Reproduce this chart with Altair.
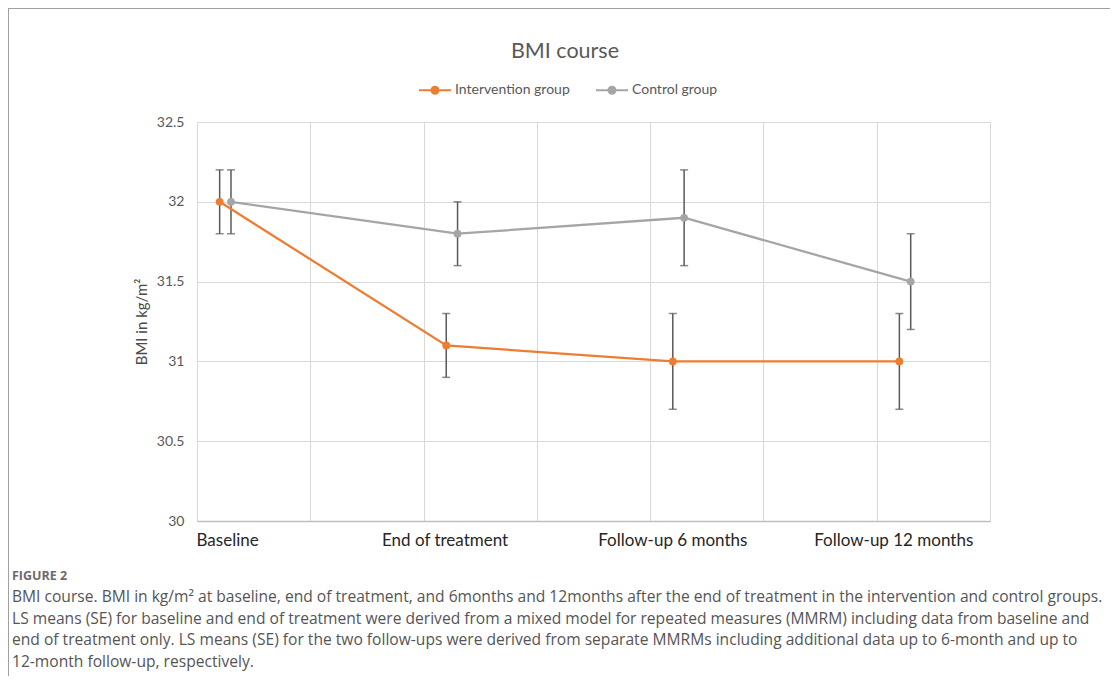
import altair as alt
import pandas as pd

# ---- data ----
categories = ["Baseline", "End of treatment", "Follow-up 6 months", "Follow-up 12 months"]
groups = ["Intervention group", "Control group"]
colors = ["#ED7D31", "#A5A5A5"]

# x positions on Excel's value axis (0..7)
intervention_x = [0.2, 2.2, 4.2, 6.2]
control_x = [0.3, 2.3, 4.3, 6.3]
intervention_mean = [32.0, 31.1, 31.0, 31.0]
intervention_se = [0.2, 0.2, 0.3, 0.3]
control_mean = [32.0, 31.8, 31.9, 31.5]
control_se = [0.2, 0.2, 0.3, 0.3]

label_x = [0.27, 2.19, 4.2, 6.15]
x_grid = [0, 1, 2, 3, 4, 5, 6, 7]
y_ticks = [30, 30.5, 31, 31.5, 32, 32.5]

caption_head = "FIGURE 2"
caption_lines = [
    "BMI course. BMI in kg/m\u00b2 at baseline, end of treatment, and 6months and 12months after the end of treatment in the intervention and control groups.",
    "LS means (SE) for baseline and end of treatment were derived from a mixed model for repeated measures (MMRM) including data from baseline and",
    "end of treatment only. LS means (SE) for the two follow-ups were derived from separate MMRMs including additional data up to 6-month and up to",
    "12-month follow-up, respectively.",
]

rows = []
for g, xs, ms, ses in [
    (groups[0], intervention_x, intervention_mean, intervention_se),
    (groups[1], control_x, control_mean, control_se),
]:
    for c, xv, m, s in zip(categories, xs, ms, ses):
        rows.append({"group": g, "category": c, "x": xv, "mean": m, "lo": m - s, "hi": m + s})
df = pd.DataFrame(rows)
labels_df = pd.DataFrame({"category": categories, "lx": label_x})
one = pd.DataFrame({"k": [0]})

W, H = 793, 399
FONT = "Lato"

xscale = alt.Scale(domain=[0, 7], nice=False, zero=False)
yscale = alt.Scale(domain=[30, 32.5], nice=False, zero=False)
cscale = alt.Scale(domain=groups, range=colors)

xaxis = alt.Axis(values=x_grid, labels=False, ticks=False, grid=True, gridColor="#d9d9d9",
                 domainColor="#bfbfbf", domainWidth=1.3, title=None)
yaxis = alt.Axis(values=y_ticks, format="~g", ticks=False, domain=False, grid=True,
                 gridColor="#d9d9d9", labelFont=FONT, labelFontSize=14, labelColor="#595959",
                 labelPadding=13, title="BMI in kg/m\u00b2", titleFont=FONT, titleFontSize=15,
                 titleFontWeight="normal", titleColor="#4a4a4a", titlePadding=7)

dot_path = ("M-1,0H1"
            "M0.22,0A0.22,0.22,0,1,1,-0.22,0A0.22,0.22,0,1,1,0.22,0"
            "M0.16,0A0.16,0.16,0,1,1,-0.16,0A0.16,0.16,0,1,1,0.16,0"
            "M0.1,0A0.1,0.1,0,1,1,-0.1,0A0.1,0.1,0,1,1,0.1,0"
            "M0.04,0A0.04,0.04,0,1,1,-0.04,0A0.04,0.04,0,1,1,0.04,0")

legend = alt.Legend(orient="none", legendX=221, legendY=-49, direction="horizontal", title=None,
                    symbolType=dot_path, symbolSize=1024, symbolStrokeWidth=2,
                    labelFont=FONT, labelFontSize=14, labelColor="#595959", labelOffset=3,
                    columnPadding=22)

base = alt.Chart(df)

err = base.mark_rule(color="#595959", strokeWidth=1.5).encode(
    x=alt.X("x:Q", scale=xscale, axis=xaxis),
    y=alt.Y("lo:Q", scale=yscale, axis=yaxis),
    y2="hi:Q",
)
cap_lo = base.mark_tick(color="#595959", orient="horizontal", size=8, thickness=1.5).encode(
    x=alt.X("x:Q", scale=xscale), y=alt.Y("lo:Q", scale=yscale))
cap_hi = base.mark_tick(color="#595959", orient="horizontal", size=8, thickness=1.5).encode(
    x=alt.X("x:Q", scale=xscale), y=alt.Y("hi:Q", scale=yscale))

lines = base.mark_line(strokeWidth=2.25).encode(
    x=alt.X("x:Q", scale=xscale),
    y=alt.Y("mean:Q", scale=yscale),
    color=alt.Color("group:N", scale=cscale, legend=legend, sort=groups),
    detail="group:N",
)
points = base.mark_circle(size=60, opacity=1).encode(
    x=alt.X("x:Q", scale=xscale),
    y=alt.Y("mean:Q", scale=yscale),
    fill=alt.Fill("group:N", scale=cscale, legend=None),
)

xlabels = alt.Chart(labels_df).mark_text(font=FONT, fontSize=17, color="#262626", baseline="middle").encode(
    x=alt.X("lx:Q", scale=xscale),
    y=alt.value(H + 20),
    text="category:N",
)

title = alt.Chart(one).mark_text(text="BMI course", font=FONT, fontSize=21.5, color="#595959",
                                 baseline="middle", align="center").encode(
    x=alt.value(368), y=alt.value(-70))

cap_head = alt.Chart(one).mark_text(text=caption_head, font="Open Sans", fontSize=12.5, fontWeight="bold",
                                    color="#6b6b6b", baseline="middle", align="left").encode(
    x=alt.value(-185), y=alt.value(454))
cap_body = alt.Chart(one).mark_text(text="\n".join(caption_lines), lineBreak="\n", lineHeight=21.6,
                                    font="Open Sans", fontSize=15.6, color="#555555",
                                    baseline="top", align="left").encode(
    x=alt.value(-185), y=alt.value(468))

frame_top = alt.Chart(one).mark_rule(color="#a0a0a0", strokeWidth=1).encode(
    x=alt.value(-189), x2=alt.value(940), y=alt.value(-113.5))
frame_left = alt.Chart(one).mark_rule(color="#a0a0a0", strokeWidth=1).encode(
    x=alt.value(-188.5), y=alt.value(-114), y2=alt.value(570))

chart = alt.layer(
    err, cap_lo, cap_hi, lines, points, xlabels, title, cap_head, cap_body, frame_top, frame_left
).properties(
    width=W, height=H,
    autosize=alt.AutoSizeParams(type="none"),
    padding={"left": 189, "top": 114, "right": 120, "bottom": 155},
).configure_view(strokeWidth=0)

chart.save("out.html", embed_options={"renderer": "svg", "actions": False})
